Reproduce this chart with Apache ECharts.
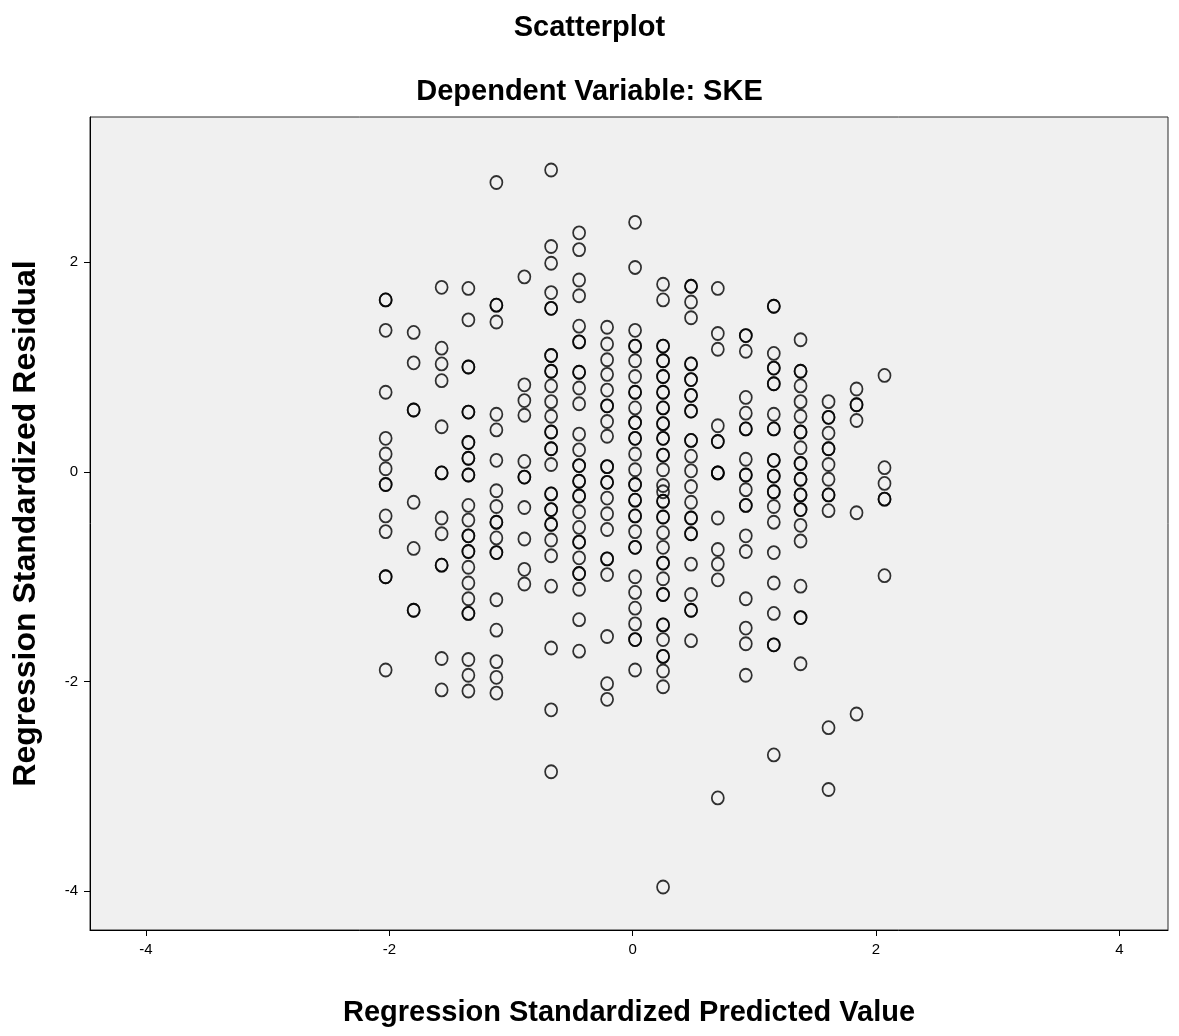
<!DOCTYPE html>
<html>
<head>
    <meta charset="utf-8">
    <title>Scatterplot - Dependent Variable: SKE</title>
    <script src="https://cdn.jsdelivr.net/npm/echarts@6/dist/echarts.min.js"></script>
    <style>
        html, body { margin: 0; padding: 0; background: #fff; }
        #chart { width: 1179px; height: 1036px; }
    </style>
</head>
<body>
<div id="chart"></div>
<script>
// predicted value (x) of each vertical stripe of cases
var predX = [-2.03, -1.80, -1.57, -1.35, -1.12, -0.89, -0.67, -0.44, -0.21, 0.02,
             0.25, 0.48, 0.70, 0.93, 1.16, 1.38, 1.61, 1.84, 2.07];

// standardized residuals of the cases in each stripe (repeats = overlapping cases)
var resM203 = [1.64, 1.64, 1.35, 0.76, 0.32, 0.17, 0.03, -0.12, -0.12, -0.42, -0.57, -1.00, -1.00, -1.89];
var resM180 = [1.33, 1.04, 0.59, 0.59, -0.29, -0.73, -1.32, -1.32];
var resM157 = [1.76, 1.18, 1.03, 0.87, 0.43, -0.01, -0.01, -0.44, -0.59, -0.89, -0.89, -1.78, -2.08];
var resM135 = [1.75, 1.45, 1.00, 1.00, 0.57, 0.57, 0.28, 0.28, 0.13, 0.13, -0.03, -0.03, -0.32, -0.46,
               -0.61, -0.61, -0.76, -0.76, -0.91, -1.06, -1.21, -1.35, -1.35, -1.79, -1.94, -2.09];
var resM112 = [2.76, 1.59, 1.59, 1.43, 0.55, 0.40, 0.11, -0.18, -0.33, -0.48, -0.48, -0.63, -0.77, -0.77,
               -1.22, -1.51, -1.81, -1.96, -2.11];
var resM089 = [1.86, 0.83, 0.68, 0.54, 0.10, -0.05, -0.05, -0.34, -0.64, -0.93, -1.07];
var resM067 = [2.88, 2.15, 1.99, 1.71, 1.56, 1.56, 1.11, 1.11, 0.96, 0.96, 0.82, 0.67, 0.53, 0.38, 0.38,
               0.22, 0.22, 0.07, -0.21, -0.21, -0.36, -0.36, -0.50, -0.50, -0.65, -0.80, -1.09, -1.68,
               -2.27, -2.86];
var resM044 = [2.28, 2.12, 1.83, 1.68, 1.39, 1.24, 1.24, 0.95, 0.95, 0.80, 0.65, 0.36, 0.21, 0.06, 0.06,
               -0.09, -0.09, -0.23, -0.23, -0.38, -0.53, -0.67, -0.67, -0.82, -0.97, -0.97, -1.12, -1.41, -1.71];
var resM021 = [1.38, 1.22, 1.07, 0.93, 0.78, 0.63, 0.63, 0.48, 0.34, 0.05, 0.05, -0.10, -0.10, -0.25,
               -0.40, -0.55, -0.83, -0.83, -0.98, -1.57, -2.02, -2.17];
var resP002 = [2.38, 1.95, 1.35, 1.20, 1.20, 1.06, 0.91, 0.76, 0.76, 0.61, 0.47, 0.47, 0.32, 0.32, 0.17,
               0.02, -0.12, -0.12, -0.27, -0.27, -0.42, -0.42, -0.57, -0.72, -0.72, -1.00, -1.15, -1.30,
               -1.45, -1.60, -1.60, -1.89];
var resP025 = [1.79, 1.64, 1.20, 1.20, 1.06, 1.06, 0.91, 0.91, 0.76, 0.76, 0.61, 0.61, 0.46, 0.46, 0.32,
               0.32, 0.16, 0.16, 0.02, -0.13, -0.19, -0.28, -0.28, -0.43, -0.43, -0.58, -0.72, -0.87, -0.87,
               -1.02, -1.17, -1.17, -1.46, -1.46, -1.60, -1.76, -1.76, -1.90, -2.05, -3.96];
var resP048 = [1.77, 1.77, 1.62, 1.47, 1.03, 1.03, 0.88, 0.88, 0.73, 0.73, 0.58, 0.58, 0.30, 0.30, 0.15,
               0.01, -0.14, -0.29, -0.44, -0.44, -0.59, -0.59, -0.88, -1.17, -1.32, -1.32, -1.61];
var resP070 = [1.75, 1.32, 1.17, 0.44, 0.29, 0.29, -0.01, -0.01, -0.01, -0.44, -0.74, -0.88, -1.03, -3.11];
var resP093 = [1.30, 1.30, 1.15, 0.71, 0.56, 0.41, 0.41, 0.12, -0.03, -0.03, -0.17, -0.32, -0.32, -0.61,
               -0.76, -1.21, -1.49, -1.64, -1.94];
var resP116 = [1.58, 1.58, 1.13, 0.99, 0.99, 0.84, 0.84, 0.55, 0.41, 0.41, 0.11, 0.11, -0.04, -0.04,
               -0.19, -0.19, -0.33, -0.48, -0.77, -1.06, -1.35, -1.65, -1.65, -2.70];
var resP138 = [1.26, 0.96, 0.96, 0.82, 0.67, 0.53, 0.38, 0.38, 0.23, 0.08, 0.08, -0.07, -0.07, -0.22,
               -0.22, -0.36, -0.36, -0.51, -0.66, -1.09, -1.39, -1.39, -1.83];
var resP161 = [0.67, 0.52, 0.52, 0.37, 0.22, 0.22, 0.07, -0.07, -0.22, -0.22, -0.37, -2.44, -3.03];
var resP184 = [0.79, 0.64, 0.64, 0.49, -0.39, -2.31];
var resP207 = [0.92, 0.04, -0.11, -0.26, -0.26, -0.99];

var xTicks = [-4, -2, 0, 2, 4];
var yTicks = [-4, -2, 0, 2];

var stripes = [resM203, resM180, resM157, resM135, resM112, resM089, resM067, resM044, resM021,
               resP002, resP025, resP048, resP070, resP093, resP116, resP138, resP161, resP184, resP207];

var points = [];
for (var i = 0; i < predX.length; i++) {
    for (var j = 0; j < stripes[i].length; j++) {
        points.push([predX[i], stripes[i][j]]);
    }
}

var font = '"Liberation Sans", Arial, sans-serif';
var chart = echarts.init(document.getElementById('chart'));

var option = {
    backgroundColor: '#ffffff',
    animation: false,
    title: [
        {
            text: 'Scatterplot',
            left: 'center',
            top: 8,
            textStyle: { fontFamily: font, fontSize: 29, fontWeight: 'bold', color: '#000' }
        },
        {
            text: 'Dependent Variable: SKE',
            left: 'center',
            top: 72,
            textStyle: { fontFamily: font, fontSize: 29, fontWeight: 'bold', color: '#000' }
        }
    ],
    grid: {
        left: 90,
        right: 11,
        top: 117,
        bottom: 106,
        show: true,
        backgroundColor: '#f0f0f0',
        borderColor: '#2a2a2a',
        borderWidth: 1
    },
    xAxis: {
        type: 'value',
        min: -4.46,
        max: 4.40,
        name: 'Regression Standardized Predicted Value',
        nameLocation: 'middle',
        nameGap: 68,
        nameTextStyle: { fontFamily: font, fontSize: 29, fontWeight: 'bold', color: '#000' },
        axisLine: { show: true, onZero: false, lineStyle: { color: '#000', width: 1 } },
        axisTick: { show: true, inside: false, length: 6, customValues: xTicks, lineStyle: { color: '#000' } },
        axisLabel: { customValues: xTicks, fontFamily: font, fontSize: 15, color: '#000', margin: 12 },
        splitLine: { show: false }
    },
    yAxis: {
        type: 'value',
        min: -4.37,
        max: 3.385,
        name: 'Regression Standardized Residual',
        nameLocation: 'middle',
        nameGap: 48,
        nameTextStyle: { fontFamily: font, fontSize: 32, fontWeight: 'bold', color: '#000' },
        axisLine: { show: true, onZero: false, lineStyle: { color: '#000', width: 1 } },
        axisTick: { show: true, inside: false, length: 6, customValues: yTicks, lineStyle: { color: '#000' } },
        axisLabel: { customValues: yTicks, fontFamily: font, fontSize: 15, color: '#000', margin: 12 },
        splitLine: { show: false }
    },
    series: [
        {
            type: 'scatter',
            data: points,
            symbol: 'circle',
            symbolSize: [12, 13],
            itemStyle: {
                color: 'rgba(0,0,0,0)',
                borderColor: '#000',
                borderWidth: 1.8
            }
        }
    ]
};

chart.setOption(option);
</script>
</body>
</html>
